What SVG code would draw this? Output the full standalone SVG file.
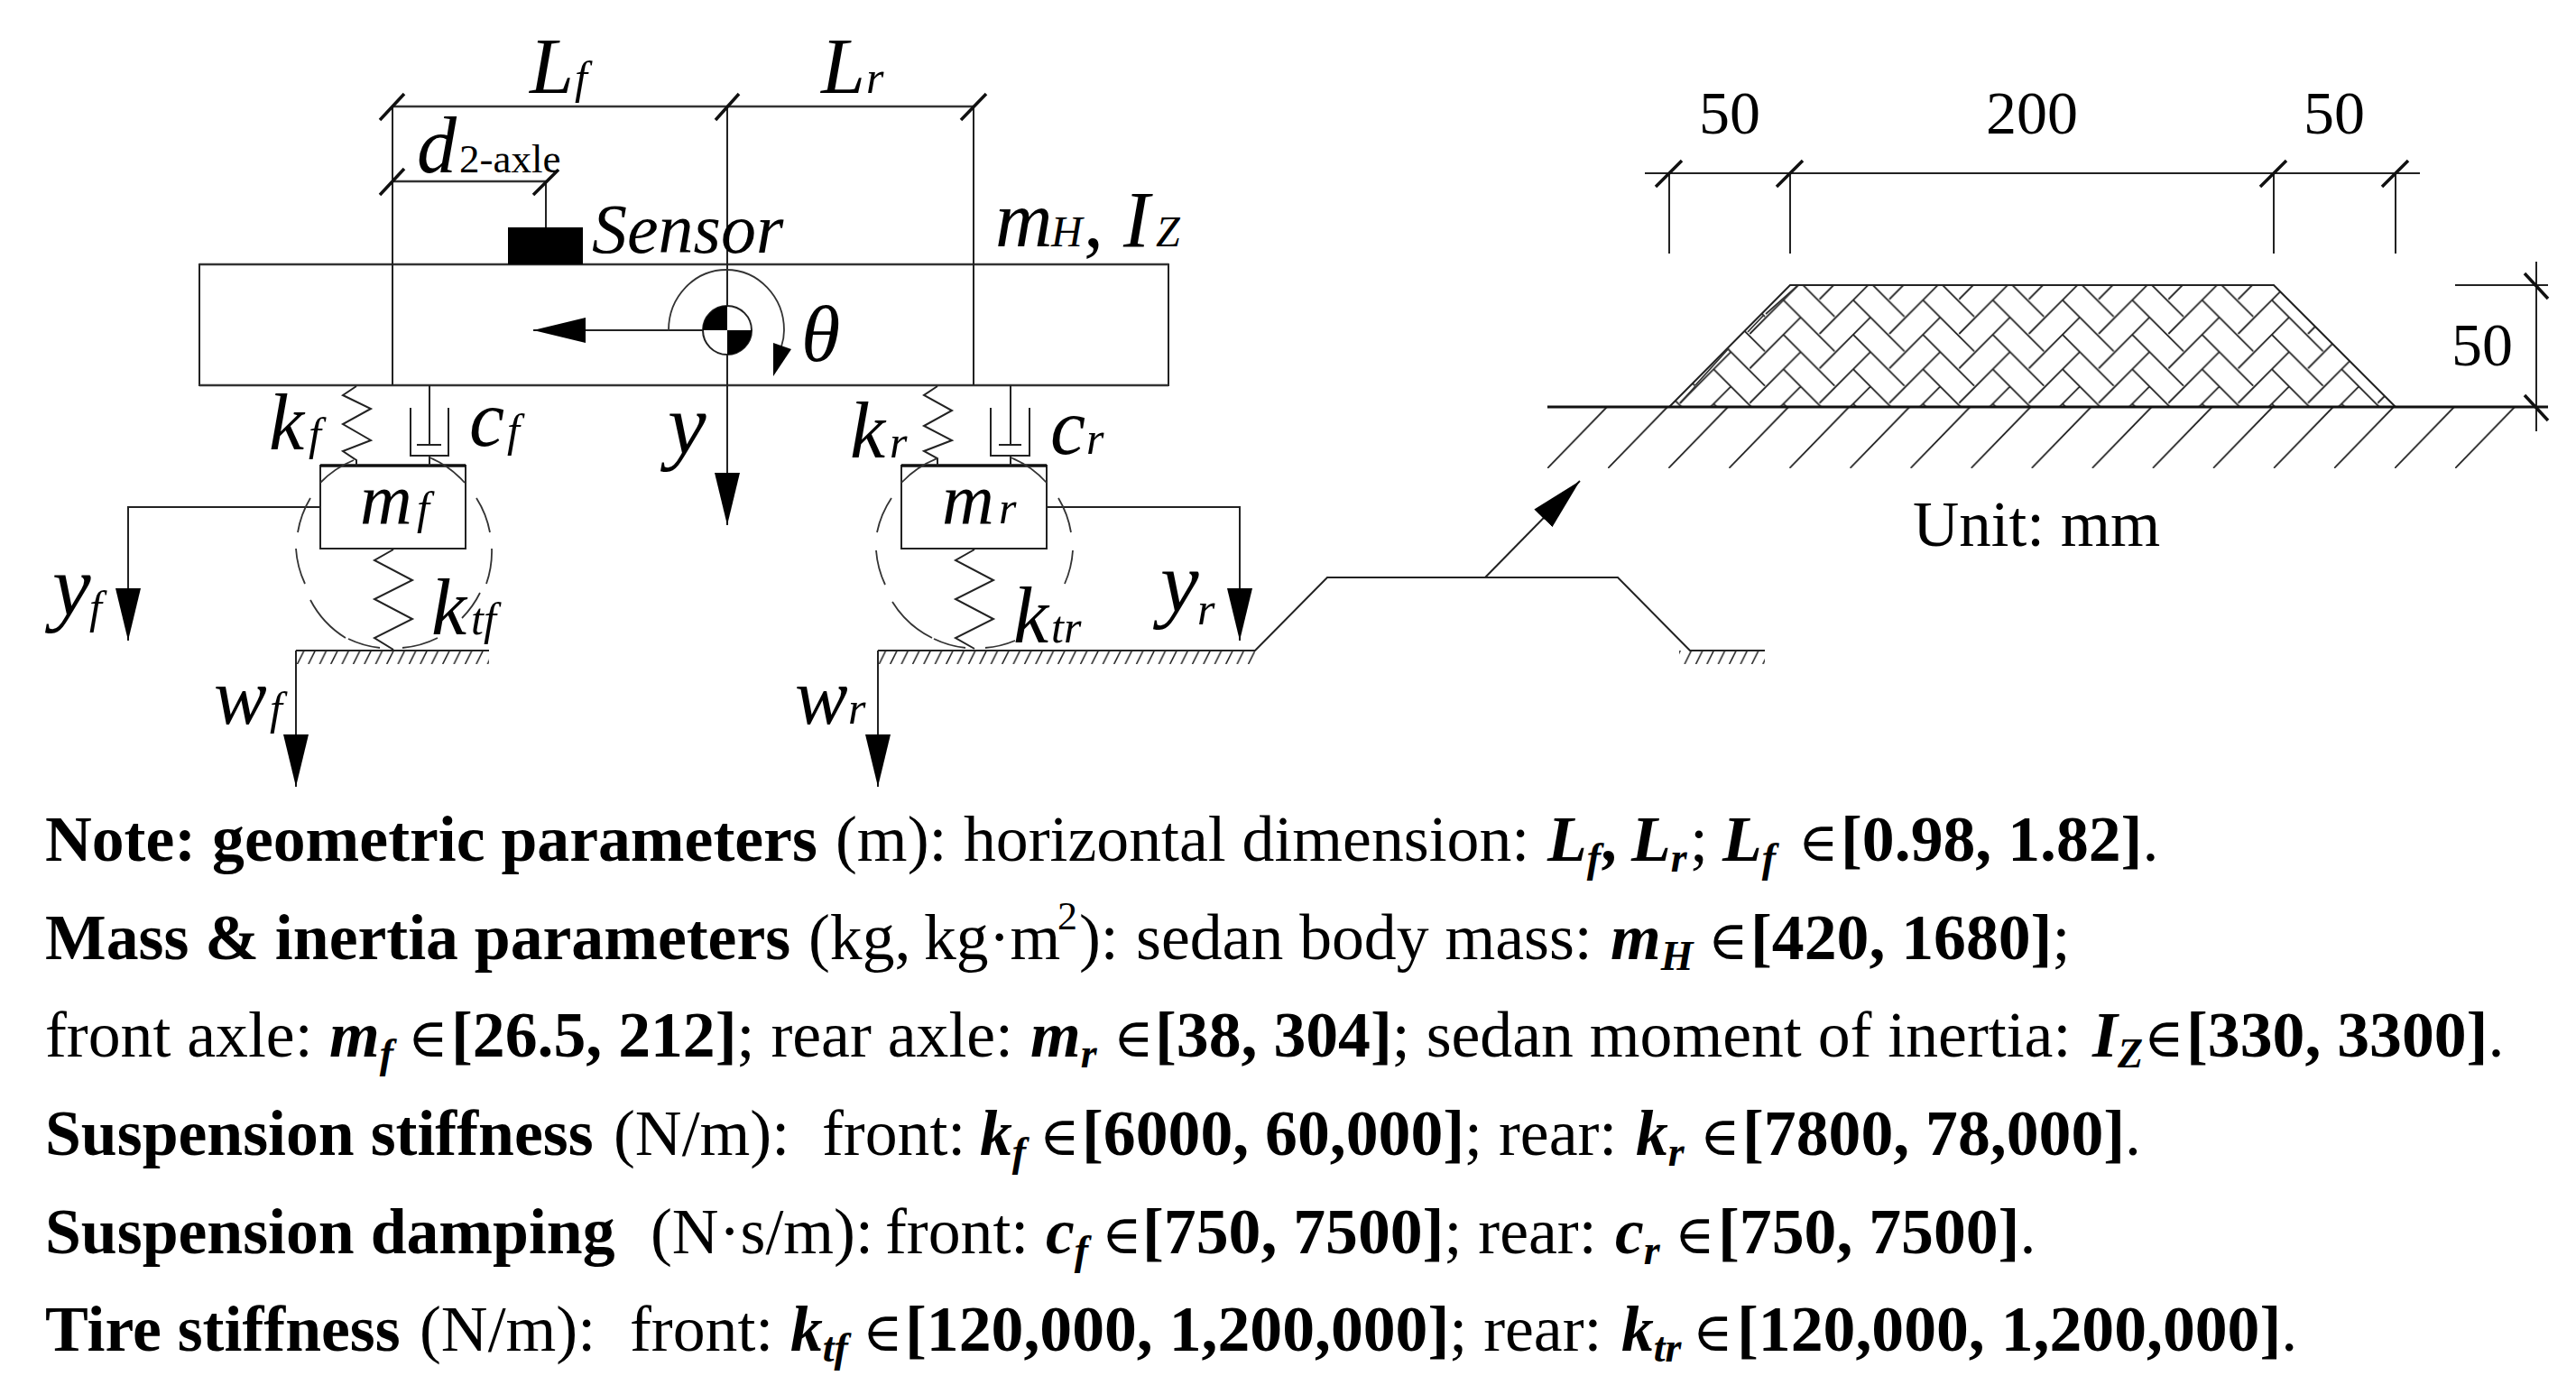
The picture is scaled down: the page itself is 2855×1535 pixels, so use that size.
<svg xmlns="http://www.w3.org/2000/svg" width="2855" height="1535" viewBox="0 0 2855 1535">
<style>
text{font-family:"Liberation Serif","Times New Roman","DejaVu Serif",serif;fill:#000}
.l{fill:none;stroke:#222;stroke-width:2;stroke-linejoin:miter}
.w{fill:#fff;stroke:#222;stroke-width:2}
.t{fill:none;stroke:#111;stroke-width:3.5}
.g{fill:none;stroke:#333;stroke-width:2.4}
.d{fill:none;stroke:#333;stroke-width:1.8}
.m{font-style:italic;font-size:88px}
.y{font-style:italic;font-size:96px}
.sub{font-style:italic;font-size:50px}
.dim{font-size:68px}
.n{font-size:71.7px}
.b{font-weight:bold}
.bi{font-weight:bold;font-style:italic}
.s{font-size:46px}
.e{font-size:60px}
.sp{font-size:44px}
</style>
<defs>
<marker id="arr" markerUnits="userSpaceOnUse" markerWidth="60" markerHeight="30" refX="58" refY="15" orient="auto"><path d="M0 1L58 15L0 29z" fill="#000"/></marker>
<pattern id="ghatch" patternUnits="userSpaceOnUse" x="328" y="721" width="12.4" height="15"><path d="M9 0L1.5 15" stroke="#222" stroke-width="1.6" fill="none"/></pattern>
<pattern id="soil" patternUnits="userSpaceOnUse" x="1715" y="451" width="67.07" height="68"><path d="M66 0L0 68" stroke="#222" stroke-width="1.8" fill="none"/></pattern>
<pattern id="herring" patternUnits="userSpaceOnUse" x="1976.67" y="332.67" width="77.33" height="38.33"><path d="M0 0L56.67 56.67M0 -38.33L56.67 18.33M40 75.67L96.33 19M40 37.33L96.33 -19.33M-37.33 75.67L19 19M-37.33 37.33L19 -19.33" stroke="#222" stroke-width="1.8" fill="none"/></pattern>
</defs>
<rect width="2855" height="1535" fill="#fff"/>

<g id="body">
<rect x="221" y="293" width="1074" height="134" class="w"/>
<path class="g" d="M221 293H1295M221 427H1295"/>
<rect id="sensor" x="563" y="252" width="83" height="41" fill="#000"/>
</g>

<g id="connectors">
<path class="l" d="M435 118V427M1079 118V427M605 201V252"/>
<path class="l" d="M806 118V582" marker-end="url(#arr)"/>
<path class="l" d="M806 366H591" marker-end="url(#arr)"/>
<path class="l" d="M355 562H142V710" marker-end="url(#arr)"/>
<path class="l" d="M1160 562H1374V710" marker-end="url(#arr)"/>
<path class="l" d="M328 721V872" marker-end="url(#arr)"/>
<path class="l" d="M973 721V872" marker-end="url(#arr)"/>
<path class="l" d="M1646 640L1751 533" marker-end="url(#arr)"/>
</g>

<g id="body-labels">
<text x="656" y="280" font-style="italic" font-size="78">Sensor</text>
<text x="1103" y="273" class="m">m<tspan font-size="48" x="1165">H</tspan><tspan x="1201" font-style="normal">,</tspan><tspan x="1245">I</tspan><tspan font-size="48" x="1281">Z</tspan></text>
<text x="740" y="503" class="y">y</text>
</g>

<g id="cg">
<path class="d" d="M741 366A64 67 0 0 1 869 366Q869 375 866 384"/>
<circle cx="806" cy="366" r="27" class="w"/>
<path d="M806 366V339A27 27 0 0 0 779 366zM806 366V393A27 27 0 0 0 833 366z" fill="#000"/>
<path d="M857 380L877 387L857 417z" fill="#000"/>
<text x="888" y="400" class="m">θ</text>
</g>

<g id="dim-wheelbase">
<path class="g" d="M435 118H1079M435 201H605"/>
<path class="t" d="M421 133L448 104M793 133L819 104M1065 133L1093 104M421 216L448 187M591 216L619 188"/>
<text x="587" y="103" class="m">L<tspan class="sub" x="637">f</tspan></text>
<text x="910" y="103" class="m">L<tspan class="sub" x="960">r</tspan></text>
<text x="462" y="191" class="m">d<tspan font-style="normal" font-size="45" x="509">2-axle</tspan></text>
</g>

<g id="front-axle">
<rect x="355" y="516" width="161" height="92" class="w"/>
<path class="t" d="M355 516H516"/>
<path class="l" d="M395 428L380 438L411 453L380 470L411 488L380 500L395 510V516"/>
<path class="l" d="M476 427V493M462 493H489M476 505V516M455 452V505H497V452"/>
<path class="l" d="M436 609L415 621L457 643L415 664L457 686L415 707L436 720"/>
<path class="d" d="M355 535A108 108 0 0 1 392 510M476 507A108 108 0 0 1 515 535M344 552A108 108 0 0 0 330 590M328 608A108 108 0 0 0 338 647M344 665A108 108 0 0 0 383 707M386 708A108 108 0 0 0 421 718M446 718A108 108 0 0 0 485 707M528 552A108 108 0 0 1 543 590M545 608A108 108 0 0 1 539 647M532 657A108 108 0 0 1 512 685"/>
<text x="399" y="580" font-style="italic" font-size="80">m<tspan class="sub" x="462">f</tspan></text>
<text x="298" y="498" class="m">k<tspan class="sub" x="342">f</tspan></text>
<text x="520" y="494" class="m">c<tspan class="sub" x="562">f</tspan></text>
<text x="58" y="682" class="y">y<tspan class="sub" x="99" dy="8">f</tspan></text>
<text x="478" y="703" class="m">k<tspan class="sub" x="522">tf</tspan></text>
<text x="237" y="802" class="m">w<tspan class="sub" x="299">f</tspan></text>
<rect x="328" y="721" width="214" height="15" fill="url(#ghatch)"/>
<path class="l" d="M328 721H542"/>
</g>

<g id="rear-axle">
<rect x="999" y="516" width="161" height="92" class="w"/>
<path class="t" d="M999 516H1160"/>
<path class="l" d="M1039 428L1024 438L1055 455L1024 472L1055 488L1024 500L1039 508V516"/>
<path class="l" d="M1120 427V493M1107 493H1132M1120 505V516M1098 452V505H1141V452"/>
<path class="l" d="M1080 609L1059 621L1101 643L1059 664L1101 686L1059 707L1080 719"/>
<path class="d" d="M999 535A108 108 0 0 1 1039 508M1120 507A108 108 0 0 1 1160 535M988 552A108 108 0 0 0 972 590M971 610A108 108 0 0 0 981 648M989 667A108 108 0 0 0 1033 707M1035 708A108 108 0 0 0 1070 718M1092 718A108 108 0 0 0 1125 710M1173 552A108 108 0 0 1 1187 590M1189 610A108 108 0 0 1 1180 647"/>
<text x="1044" y="580" font-style="italic" font-size="80">m<tspan class="sub" x="1107">r</tspan></text>
<text x="942" y="507" class="m">k<tspan class="sub" x="986">r</tspan></text>
<text x="1164" y="503" class="m">c<tspan class="sub" x="1204">r</tspan></text>
<text x="1286" y="678" class="y">y<tspan class="sub" x="1327" y="692">r</tspan></text>
<text x="1123" y="712" class="m">k<tspan class="sub" x="1165">tr</tspan></text>
<text x="881" y="802" class="m">w<tspan class="sub" x="940">r</tspan></text>
<rect x="973" y="721" width="418" height="15" fill="url(#ghatch)"/>
<rect x="1861" y="721" width="95" height="15" fill="url(#ghatch)"/>
<path class="l" d="M973 721H1391L1471 640H1793L1873 721H1956"/>
</g>

<g id="speed-bump">
<polygon points="1850,451 1984,316 2520,316 2655,451" class="l" style="fill:url(#herring)"/>
<path class="d" d="M1862 447L1879 428M1879 427L1916 386M1937 368L1955 349M1957 348L1992 317"/>
<rect x="1715" y="451" width="1073" height="68" fill="url(#soil)"/>
<path class="t" d="M1715 451H2824" style="stroke-width:3"/>
</g>

<g id="bump-dims">
<path class="l" d="M1823 192H2682M1850 192V281M1984 192V281M2520 192V281M2655 192V281M2721 316H2824M2811 290V478"/>
<path class="t" d="M1835 207L1864 178M1969 207L1998 178M2505 207L2534 178M2640 207L2669 178M2798 303L2824 331M2798 438L2824 466"/>
<text x="1883" y="148" class="dim">50</text>
<text x="2201" y="148" class="dim">200</text>
<text x="2553" y="148" class="dim">50</text>
<text x="2717" y="405" class="dim">50</text>
<text x="2120" y="605" font-size="71">Unit: mm</text>
</g>

<g id="note">
<text class="n" y="954"><tspan class="b" x="50">Note: geometric parameters</tspan><tspan x="926">(m): </tspan><tspan x="1068">horizontal dimension: </tspan><tspan class="bi" x="1715">L</tspan><tspan class="bi s" y="966">f</tspan><tspan y="954" class="bi" x="1777">,</tspan><tspan class="bi" x="1808">L</tspan><tspan class="bi s" y="966">r</tspan><tspan y="954" x="1873">;</tspan><tspan class="bi" x="1909">L</tspan><tspan class="bi s" y="966">f</tspan><tspan class="e" y="954" x="1993">∈</tspan><tspan class="b" x="2040">[0.98, 1.82]</tspan><tspan>.</tspan></text>
<text class="n" y="1063"><tspan class="b" x="50">Mass &amp; inertia parameters</tspan><tspan x="896">(kg, </tspan><tspan x="1024">kg·m</tspan><tspan class="sp" x="1172" y="1030">2</tspan><tspan x="1196" y="1063">): </tspan><tspan x="1259">sedan body mass: </tspan><tspan class="bi" x="1785">m</tspan><tspan class="bi s" y="1075">H</tspan><tspan class="e" y="1063" x="1893">∈</tspan><tspan class="b" x="1940">[420, 1680]</tspan><tspan>;</tspan></text>
<text class="n" y="1171"><tspan x="50">front axle: </tspan><tspan class="bi" x="365">m</tspan><tspan class="bi s" y="1183">f</tspan><tspan class="e" y="1171" x="452">∈</tspan><tspan class="b" x="500">[26.5, 212]</tspan><tspan>; rear axle: </tspan><tspan class="bi" x="1142">m</tspan><tspan class="bi s" y="1183">r</tspan><tspan class="e" y="1171" x="1234">∈</tspan><tspan class="b" x="1280">[38, 304]</tspan><tspan>; sedan moment of inertia: </tspan><tspan class="bi" x="2319">I</tspan><tspan class="bi s" y="1183">Z</tspan><tspan class="e" y="1171" x="2376">∈</tspan><tspan class="b" x="2423">[330, 3300]</tspan><tspan>.</tspan></text>
<text class="n" y="1280"><tspan class="b" x="50">Suspension stiffness</tspan><tspan x="680">(N/m):  </tspan><tspan x="911">front: </tspan><tspan class="bi" x="1086">k</tspan><tspan class="bi s" y="1292">f</tspan><tspan class="e" y="1280" x="1152">∈</tspan><tspan class="b" x="1199">[6000, 60,000]</tspan><tspan>; rear: </tspan><tspan class="bi" x="1813">k</tspan><tspan class="bi s" y="1292">r</tspan><tspan class="e" y="1280" x="1884">∈</tspan><tspan class="b" x="1931">[7800, 78,000]</tspan><tspan>.</tspan></text>
<text class="n" y="1389"><tspan class="b" x="50">Suspension damping</tspan><tspan x="721">(N·s/m): </tspan><tspan x="981">front: </tspan><tspan class="bi" x="1159">c</tspan><tspan class="bi s" y="1401">f</tspan><tspan class="e" y="1389" x="1221">∈</tspan><tspan class="b" x="1266">[750, 7500]</tspan><tspan>; rear: </tspan><tspan class="bi" x="1790">c</tspan><tspan class="bi s" y="1401">r</tspan><tspan class="e" y="1389" x="1856">∈</tspan><tspan class="b" x="1904">[750, 7500]</tspan><tspan>.</tspan></text>
<text class="n" y="1497"><tspan class="b" x="50">Tire stiffness</tspan><tspan x="465">(N/m):  </tspan><tspan x="698">front: </tspan><tspan class="bi" x="876">k</tspan><tspan class="bi s" y="1509">tf</tspan><tspan class="e" y="1497" x="956">∈</tspan><tspan class="b" x="1003">[120,000, 1,200,000]</tspan><tspan>; rear: </tspan><tspan class="bi" x="1797">k</tspan><tspan class="bi s" y="1509">tr</tspan><tspan class="e" y="1497" x="1876">∈</tspan><tspan class="b" x="1925">[120,000, 1,200,000]</tspan><tspan>.</tspan></text>
</g>
</svg>
